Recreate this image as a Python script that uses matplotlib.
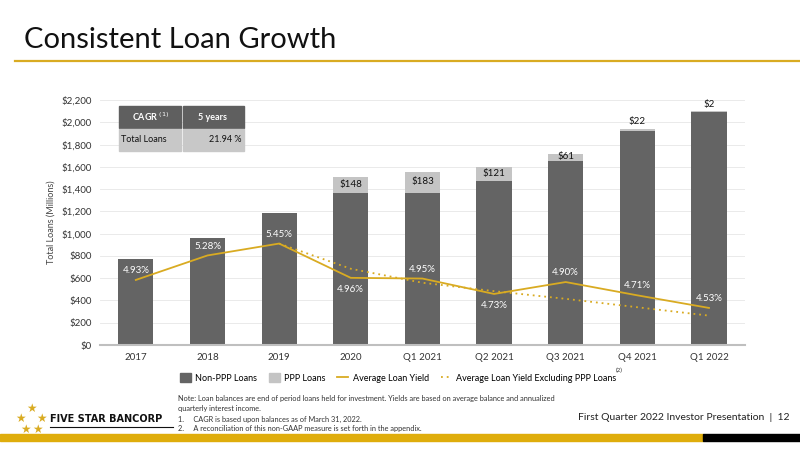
import matplotlib.pyplot as plt
from matplotlib.patches import Rectangle
from matplotlib.lines import Line2D

plt.rcParams['font.family'] = ['Lato', 'DejaVu Sans']

periods = ["2017", "2018", "2019", "2020", "Q1 2021", "Q2 2021", "Q3 2021", "Q4 2021", "Q1 2022"]
non_ppp = [775, 965, 1185, 1364, 1368, 1475, 1655, 1923, 2096]
ppp = [0, 0, 0, 148, 183, 121, 61, 22, 2]
avg_yield = [4.93, 5.28, 5.45, 4.96, 4.95, 4.73, 4.90, 4.71, 4.53]
yield_ex_ppp = [None, None, 5.45, 5.09, 4.89, 4.77, 4.66, 4.54, 4.42]
yield_label_pos = ["above", "above", "above", "below", "above", "below", "above", "above", "above"]
y_ticks = list(range(0, 2201, 200))

DARK = "#646464"
LIGHT = "#c4c4c4"
GOLD = "#d9ab22"
DOTS = (0, (1, 2.2))

fig = plt.figure(figsize=(8, 4.49), dpi=100)

# header
fig.text(0.03, 0.912, "Consistent Loan Growth", fontsize=21, va="center", ha="left", color="#111111")
fig.add_artist(Line2D([15 / 800, 1.0], [1 - 61 / 449] * 2, color=GOLD, lw=1.6))

ax = fig.add_axes([0.125, 0.2316, 0.806, 0.5454])
x = list(range(len(periods)))
ax.bar(x, non_ppp, width=0.49, color=DARK, zorder=2)
ax.bar(x, ppp, width=0.49, bottom=non_ppp, color=LIGHT, zorder=2)
ax.set_xlim(-0.5, len(periods) - 0.5)
ax.set_ylim(0, 2200)
ax.set_yticks(y_ticks)
ax.set_yticklabels([f"${v:,}" for v in y_ticks])
ax.set_xticks(x)
ax.set_xticklabels(periods)
ax.tick_params(length=0, labelsize=7, colors="#333333", pad=6)
ax.grid(axis="y", color="#e6e6e6", lw=0.6, zorder=0)
for s in ["top", "right", "left"]:
    ax.spines[s].set_visible(False)
ax.spines["bottom"].set_color("#bfbfbf")
ax.spines["bottom"].set_linewidth(1.5)
ax.set_ylabel("Total Loans (Millions)", fontsize=6.5, color="#444444", labelpad=4)

# PPP labels
for i, (n, p) in enumerate(zip(non_ppp, ppp)):
    if p == 0:
        continue
    if p > 50:
        ax.text(i, n + p / 2 + 8, f"${p}", ha="center", va="center", fontsize=7, color="#111111", zorder=5)
    else:
        ax.text(i, n + p + 25, f"${p}", ha="center", va="bottom", fontsize=7, color="#111111", zorder=5)

# yields on secondary axis
ax2 = ax.twinx()
ax2.set_ylim(4.0, 7.5)
ax2.axis("off")
ax2.plot(x, avg_yield, color=GOLD, lw=1.3, zorder=4)
xs = [i for i, v in zip(x, yield_ex_ppp) if v is not None]
ys = [v for v in yield_ex_ppp if v is not None]
ax2.plot(xs, ys, color=GOLD, lw=1.3, ls=DOTS, zorder=4)
for i, (v, pos) in enumerate(zip(avg_yield, yield_label_pos)):
    dy = 3.5 if pos == "above" else -5
    ax2.annotate(f"{v:.2f}%", (i, v), xytext=(0, dy), textcoords="offset points",
                 ha="center", va="bottom" if pos == "above" else "top", fontsize=7, color="white")

# CAGR table
tx0, tx1, tx2 = 119 / 800, 182 / 800, 244 / 800
ty0, ty1, ty2 = 1 - 106 / 449, 1 - 128 / 449, 1 - 151 / 449
fig.add_artist(Rectangle((tx0, ty1), tx1 - tx0 - 0.001, ty0 - ty1, color="#5f5f5f", transform=fig.transFigure))
fig.add_artist(Rectangle((tx1 + 0.001, ty1), tx2 - tx1 - 0.001, ty0 - ty1, color="#5f5f5f", transform=fig.transFigure))
fig.add_artist(Rectangle((tx0, ty2), tx1 - tx0 - 0.001, ty1 - ty2 - 0.002, color="#c8c8c8", transform=fig.transFigure))
fig.add_artist(Rectangle((tx1 + 0.001, ty2), tx2 - tx1 - 0.001, ty1 - ty2 - 0.002, color="#c8c8c8", transform=fig.transFigure))
fig.text((tx0 + tx1) / 2, (ty0 + ty1) / 2, r"CAGR $^{(1)}$", fontsize=6.5, weight="bold", color="white", ha="center", va="center")
fig.text((tx1 + tx2) / 2, (ty0 + ty1) / 2, "5 years", fontsize=6.5, weight="bold", color="white", ha="center", va="center")
fig.text(tx0 + 0.003, (ty1 + ty2) / 2, "Total Loans", fontsize=6.5, color="#111111", ha="left", va="center")
fig.text(tx2 - 0.003, (ty1 + ty2) / 2, "21.94 %", fontsize=6.5, color="#111111", ha="right", va="center")

# legend
handles = [
    Rectangle((0, 0), 1, 1, color=DARK),
    Rectangle((0, 0), 1, 1, color=LIGHT),
    Line2D([], [], color=GOLD, lw=1.3),
    Line2D([], [], color=GOLD, lw=1.3, ls=DOTS),
]
labels = ["Non-PPP Loans", "PPP Loans", "Average Loan Yield", "Average Loan Yield Excluding PPP Loans"]
fig.legend(handles, labels, loc="center", bbox_to_anchor=(398 / 800, 1 - 378 / 449), ncol=4, frameon=False,
           fontsize=6.5, handlelength=1.2, handletextpad=0.5, columnspacing=1.3, handleheight=1.0)
fig.text(619 / 800, 1 - 370 / 449, "(2)", fontsize=4.5, color="#333333", ha="center", va="center")

# notes
notes = [
    (178, 398, "Note: Loan balances are end of period loans held for investment. Yields are based on average balance and annualized"),
    (178, 408, "quarterly interest income."),
    (178, 419, "1.     CAGR is based upon balances as of March 31, 2022."),
    (178, 429, "2.     A reconciliation of this non-GAAP measure is set forth in the appendix."),
]
for nx, ny, t in notes:
    fig.text(nx / 800, 1 - ny / 449, t, fontsize=5.3, color="#333333", ha="left", va="center")

fig.text(790 / 800, 1 - 418 / 449, "First Quarter 2022 Investor Presentation  |  12", fontsize=7.5,
         color="#222222", ha="right", va="center")

# logo
star_pts = [(31, 408), (20, 418), (41, 418), (25, 429), (37, 429)]
for sx, sy in star_pts:
    fig.text(sx / 800, 1 - sy / 449, "\u2605", fontsize=8.5, color=GOLD, ha="center", va="center",
             family=["DejaVu Sans"])
fig.text(50 / 800, 1 - 419 / 449, "FIVE STAR BANCORP", fontsize=7, weight="bold", color="#111111",
         ha="left", va="center", family=["DejaVu Sans"])
fig.add_artist(Line2D([50 / 800, 173 / 800], [1 - 427 / 449] * 2, color="#111111", lw=0.8))

# bottom band
fig.add_artist(Rectangle((0, 1 - 441 / 449), 703 / 800, 7 / 449, color="#dfad0c", transform=fig.transFigure))
fig.add_artist(Rectangle((703 / 800, 1 - 441 / 449), 97 / 800, 7 / 449, color="#000000", transform=fig.transFigure))

fig.savefig("out.png", dpi=100)
